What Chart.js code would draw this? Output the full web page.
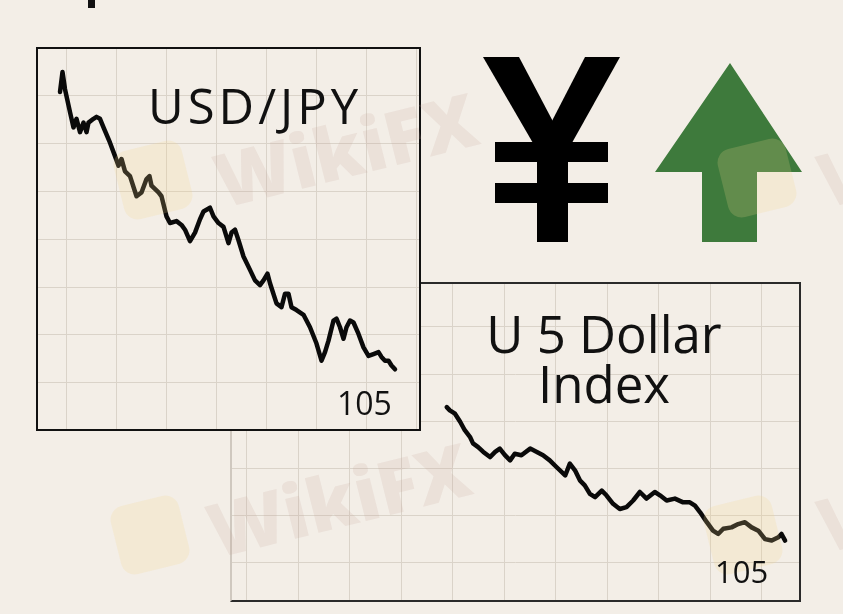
<!DOCTYPE html>
<html>
<head>
<title>USD/JPY and US Dollar Index</title>
<script src="https://cdn.jsdelivr.net/npm/chart.js"></script>
<style>
body { margin: 0; background: #f3eee7; font-family: "Open Sans", sans-serif; color: #111; }
.page { position: relative; width: 843px; height: 614px; overflow: hidden; background: #f3eee7; }
.box { position: absolute; box-sizing: border-box; background: #f3eee7; }
#box1 { left: 36px; top: 47px; width: 385px; height: 384px; border: 2px solid #111; z-index: 3; }
#box2 { left: 230px; top: 282px; width: 571px; height: 320px; border: 2px solid #2a2a2a; border-left-color: #cfc8bf; z-index: 2; }
.box canvas { position: absolute; left: 0; top: 0; }
.lbl { position: absolute; line-height: 1; white-space: nowrap; z-index: 5; font-weight: 500; }
.wm { position: absolute; font-family: "Open Sans", sans-serif; font-weight: 800; font-size: 74px; color: rgba(196, 160, 150, 0.17); transform: rotate(-14deg); z-index: 4; line-height: 1; }
.logo { position: absolute; width: 70px; height: 70px; border-radius: 14px; background: rgba(246, 214, 140, 0.20); transform: rotate(-14deg); z-index: 4; }
</style>
</head>
<body>
<div class="page">
  <div style="position:absolute;left:88px;top:0;width:7px;height:8px;background:#111;"></div>

  <div class="box" id="box2"><canvas id="dxyChart" width="567" height="316"></canvas></div>
  <div class="box" id="box1"><canvas id="usdjpyChart" width="381" height="380"></canvas></div>

  <div class="lbl" style="left:148px;top:81px;font-size:49px;letter-spacing:4px;">USD/JPY</div>
  <div class="lbl" style="left:337px;top:387px;font-size:32px;">105</div>
  <div class="lbl" style="left:480px;top:308px;width:248px;text-align:center;font-size:51px;line-height:50px;">U 5 Dollar<br>Index</div>
  <div class="lbl" style="left:715px;top:556px;font-size:31px;">105</div>

  <svg style="position:absolute;left:0;top:0;z-index:1;" width="843" height="614">
    <polygon points="483,57 519,57 568,150 537,150" fill="#000"/>
    <polygon points="585,57 620,57 568,150 537,150" fill="#000"/>
    <rect x="537" y="128" width="31" height="114" fill="#000"/>
    <rect x="495" y="142" width="113" height="20" fill="#000"/>
    <rect x="495" y="183" width="113" height="20" fill="#000"/>
    <polygon points="730,63 802,172 757,172 757,242 702,242 702,172 655,172" fill="#3e7a3c"/>
  </svg>

  <div class="logo" style="left:118px;top:145px;"></div>
  <div class="wm" style="left:212px;top:112px;">WikiFX</div>
  <div class="logo" style="left:115px;top:500px;"></div>
  <div class="wm" style="left:205px;top:462px;">WikiFX</div>
  <div class="logo" style="left:722px;top:143px;"></div>
  <div class="wm" style="left:818px;top:135px;">W</div>
  <div class="logo" style="left:708px;top:500px;"></div>
  <div class="wm" style="left:818px;top:480px;">W</div>
</div>

<script>
// USD/JPY trace (day, price)
const usdJpyDays = [-1.2, -0.7, -0.2, 0.8, 1.5, 2.1, 2.8, 3.5, 4.1, 4.5, 5.5, 6.1, 6.8, 7.5, 8.8, 9.8, 10.5, 11.1, 11.8, 12.8,
  14.1, 15.1, 16.1, 16.7, 17.1, 18.5, 19.1, 20.1, 20.8, 22.1, 23.1, 23.8, 24.8, 25.8, 26.8, 27.5, 28.8, 29.5, 30.5, 31.5,
  32.5, 33.1, 33.8, 34.5, 35.5, 36.8, 37.8, 38.8, 39.5, 40.3, 40.8, 42.1, 43.1, 43.8, 44.5, 45.1, 46.1, 47.5, 48.8, 50.1,
  51.1, 51.8, 52.5, 53.5, 54.1, 54.8, 55.5, 56.1, 56.8, 57.5, 58.5, 59.5, 60.5, 61.5, 62.5, 63.1, 63.8, 64.5, 65.1, 65.8];
const usdJpyValues = [135.4, 137.5, 135.7, 133.3, 131.7, 132.6, 131.2, 132.2, 131.2, 132.2, 132.6, 132.8, 132.6, 131.7, 130.1, 128.7, 127.7, 128.4, 127.1, 126.6,
  124.5, 124.9, 126.3, 126.6, 125.6, 124.9, 124.5, 122.4, 121.7, 121.9, 121.5, 121.0, 119.8, 120.7, 122.1, 122.9, 123.3, 122.4, 121.7, 121.3,
  119.6, 120.7, 121.0, 119.9, 118.2, 116.8, 115.7, 115.2, 115.7, 116.4, 115.4, 113.3, 112.9, 114.3, 114.3, 112.9, 112.6, 112.1, 110.8, 109.1,
  107.3, 108.2, 109.4, 111.5, 111.7, 110.8, 109.6, 110.8, 111.5, 111.3, 110.1, 108.7, 107.8, 108.0, 108.2, 107.7, 107.3, 107.3, 106.8, 106.4];

// US Dollar Index trace (day, index)
const dxyDays = [38.8, 39.4, 40.4, 41.4, 42.3, 43.3, 43.9, 44.9, 45.9, 47.2, 48.2, 49.1, 50.1, 51.1, 52.0, 53.3, 55.0, 56.3, 57.5, 58.8,
  60.1, 61.8, 62.7, 63.7, 64.7, 65.6, 66.6, 67.6, 68.9, 69.8, 71.1, 72.4, 73.7, 75.0, 76.3, 77.6, 79.2, 80.2, 81.5, 83.1,
  84.7, 86.0, 87.0, 88.0, 89.3, 90.5, 91.5, 92.5, 94.1, 95.4, 96.7, 98.0, 99.3, 100.6, 101.9, 103.2, 103.8, 104.5];
const dxyValues = [108.30, 108.23, 108.16, 107.99, 107.81, 107.67, 107.53, 107.45, 107.35, 107.24, 107.35, 107.42, 107.28, 107.17, 107.31, 107.28, 107.42, 107.35, 107.28, 107.17,
  107.03, 106.85, 107.10, 106.96, 106.74, 106.64, 106.46, 106.39, 106.53, 106.43, 106.25, 106.14, 106.18, 106.32, 106.50, 106.36, 106.50, 106.43, 106.32, 106.36,
  106.28, 106.28, 106.21, 106.07, 105.86, 105.68, 105.61, 105.72, 105.75, 105.82, 105.86, 105.75, 105.68, 105.50, 105.47, 105.54, 105.61, 105.47];

const gridColor = '#dad3c9';

function makeChart(id, days, values, xr, yr) {
  const pts = days.map((d, i) => ({ x: d, y: values[i] }));
  return new Chart(document.getElementById(id), {
    type: 'line',
    data: {
      datasets: [{
        data: pts,
        borderColor: '#0a0a0a',
        borderWidth: 4.5,
        pointRadius: 0,
        tension: 0,
        borderJoinStyle: 'round',
        borderCapStyle: 'round'
      }]
    },
    options: {
      responsive: false,
      animation: false,
      devicePixelRatio: 1,
      layout: { padding: 0 },
      plugins: { legend: { display: false }, tooltip: { enabled: false } },
      scales: {
        x: {
          type: 'linear', min: xr[0], max: xr[1],
          ticks: { display: false, stepSize: xr[2], includeBounds: false },
          grid: { color: gridColor, lineWidth: 1, drawTicks: false },
          border: { display: false }
        },
        y: {
          type: 'linear', min: yr[0], max: yr[1],
          ticks: { display: false, stepSize: yr[2], includeBounds: false },
          grid: { color: gridColor, lineWidth: 1, drawTicks: false },
          border: { display: false }
        }
      }
    }
  });
}

makeChart('usdjpyChart', usdJpyDays, usdJpyValues, [-5.6, 70.6, 10], [100.16, 139.9, 5]);
makeChart('dxyChart', dxyDays, dxyValues, [-2.9, 107.2, 10], [104.21, 110.91, 1]);
</script>
</body>
</html>
